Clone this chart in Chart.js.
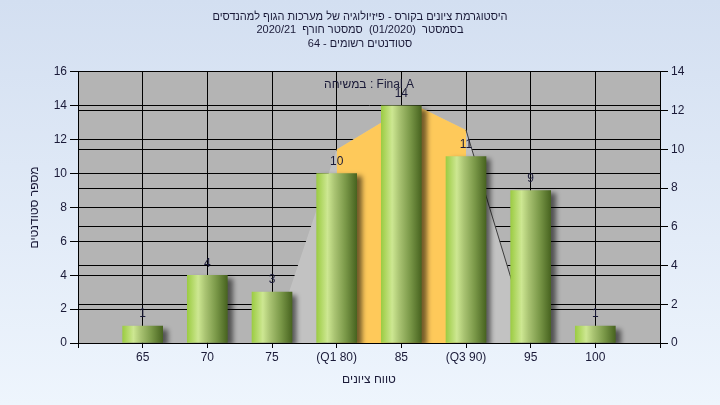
<!DOCTYPE html>
<html><head><meta charset="utf-8">
<script src="https://cdn.jsdelivr.net/npm/chart.js@4.4.1/dist/chart.umd.min.js"></script>
<style>
html,body{margin:0;padding:0;}
body{width:720px;height:405px;overflow:hidden;background:linear-gradient(180deg,#d3dff1 0%,#eef5fd 100%);}
#wrap{width:720px;height:405px;position:relative;}
</style></head><body>
<div id="wrap"><canvas id="c" dir="rtl" width="720" height="405"></canvas></div>
<script>
// ---- data ----
const titleLines = [
  'היסטוגרמת ציונים בקורס - פיזיולוגיה של מערכות הגוף למהנדסים',
  'בסמסטר  (01/2020)  סמסטר חורף  2020/21',
  'סטודנטים רשומים - 64'
];
const annotationText = 'Final A : במשיחה';
const yTitle = 'מספר סטודנטים';
const xTitle = 'טווח ציונים';
const categories = ['65', '70', '75', '(Q1 80)', '85', '(Q3 90)', '95', '100'];
const categoryPositions = [1, 2, 3, 4, 5, 6, 7, 8];
const counts = [1, 4, 3, 10, 14, 11, 9, 1];
const leftAxisMax = 16;
const rightAxisMax = 14;
const tickStep = 2;
const xAxisMax = 9;
const curveX = [3, 4, 4.7, 5.3, 6, 7];
const curveY = [0, 10, 11.4, 12.15, 11, 0];
const quartileRange = [4, 6];

// ---- derived ----
const barData = categoryPositions.map((x, i) => ({x: x, y: counts[i]}));
const curvePts = curveX.map((x, i) => ({x: x, y: curveY[i]}));
const iqrPts = curvePts.filter(p => p.x >= quartileRange[0] && p.x <= quartileRange[1]);
const edgePts = curvePts.slice(-2);

const FONT = '"Liberation Sans", Arial, "DejaVu Sans", sans-serif';
const TXT = '#1a1a38';

function barGradient(ctx) {
  const chart = ctx.chart;
  if (!chart.chartArea || ctx.dataIndex === undefined) return '#8ab040';
  const xs = chart.scales.x;
  const cx = xs.getPixelForValue(categoryPositions[ctx.dataIndex]);
  const g = chart.ctx.createLinearGradient(cx - 20, 0, cx + 20, 0);
  g.addColorStop(0, '#9ccc44');
  g.addColorStop(0.12, '#b2d866');
  g.addColorStop(0.27, '#cde792');
  g.addColorStop(0.45, '#a9c372');
  g.addColorStop(0.72, '#7a9848');
  g.addColorStop(1, '#486420');
  return g;
}

const bgPlugin = {
  id: 'plotBg',
  beforeDraw(chart) {
    const {ctx, chartArea: a} = chart;
    ctx.direction = 'rtl';
    ctx.save();
    ctx.fillStyle = '#b4b4b4';
    ctx.fillRect(a.left, a.top, a.right - a.left, a.bottom - a.top);
    ctx.restore();
  }
};
const shadowPlugin = {
  id: 'barShadow',
  beforeDatasetDraw(chart, args) {
    if (args.index !== 0) return;
    const ctx = chart.ctx;
    ctx.save();
    ctx.shadowColor = 'rgba(0,0,0,0.55)';
    ctx.shadowBlur = 5;
    ctx.shadowOffsetX = 5;
    ctx.shadowOffsetY = 3;
  },
  afterDatasetDraw(chart, args) {
    if (args.index !== 0) return;
    chart.ctx.restore();
  }
};
const labelPlugin = {
  id: 'barLabels',
  afterDatasetsDraw(chart) {
    const {ctx, chartArea: a} = chart;
    const meta = chart.getDatasetMeta(0);
    ctx.save();
    ctx.direction = 'rtl';
    ctx.font = '12px ' + FONT;
    ctx.fillStyle = TXT;
    ctx.textAlign = 'center';
    ctx.textBaseline = 'middle';
    meta.data.forEach((el, i) => ctx.fillText(String(counts[i]), el.x, el.y - 12));
    ctx.fillText(annotationText, (a.left + a.right) / 2, a.top + 13);
    ctx.restore();
  }
};

new Chart(document.getElementById('c'), {
  type: 'bar',
  data: {
    datasets: [
      {type: 'bar', data: barData, yAxisID: 'y', xAxisID: 'x', order: 0,
       backgroundColor: barGradient, borderWidth: 0, barThickness: 40},
      {type: 'line', data: curvePts, yAxisID: 'y2', xAxisID: 'x', order: 3,
       fill: 'origin', backgroundColor: '#c2c2c2', borderWidth: 0, borderColor: 'rgba(0,0,0,0)',
       pointRadius: 0, tension: 0},
      {type: 'line', data: iqrPts, yAxisID: 'y2', xAxisID: 'x', order: 2,
       fill: 'origin', backgroundColor: '#fec95a', borderWidth: 0, borderColor: 'rgba(0,0,0,0)',
       pointRadius: 0, tension: 0},
      {type: 'line', data: edgePts, yAxisID: 'y2', xAxisID: 'x', order: 1,
       fill: false, borderColor: '#3c3c3c', borderWidth: 1, pointRadius: 0, tension: 0}
    ]
  },
  options: {
    responsive: false,
    animation: false,
    devicePixelRatio: 1,
    layout: {padding: 0},
    plugins: {
      legend: {display: false},
      tooltip: {enabled: false},
      title: {
        display: true, text: titleLines, color: TXT,
        font: {family: FONT, size: 11, weight: 'normal', lineHeight: 1.227},
        padding: {top: 10, bottom: 21.5}
      }
    },
    scales: {
      x: {
        type: 'linear', position: 'bottom', min: 0, max: xAxisMax, offset: false,
        afterFit(s) { s.height = 62; },
        grid: {color: '#000', tickColor: '#000', tickLength: 5, offset: false, lineWidth: 1},
        border: {color: '#000', width: 1},
        ticks: {
          stepSize: 1, autoSkip: false, maxRotation: 0, minRotation: 0, padding: 2,
          color: TXT, font: {family: FONT, size: 12},
          callback: (v) => { const i = categoryPositions.indexOf(v); return i >= 0 ? categories[i] : ''; }
        },
        title: {display: true, text: xTitle, color: TXT, font: {family: FONT, size: 12},
                padding: {top: 0, bottom: 18}}
      },
      y: {
        type: 'linear', position: 'left', min: 0, max: leftAxisMax,
        afterFit(s) { s.width = 78; },
        grid: {color: '#000', tickColor: '#000', tickLength: 8},
        border: {color: '#000', width: 1},
        ticks: {stepSize: tickStep, padding: 3, color: TXT, font: {family: FONT, size: 12}},
        title: {display: true, text: yTitle, color: TXT, font: {family: FONT, size: 12},
                padding: {top: 27, bottom: 0}}
      },
      y2: {
        type: 'linear', position: 'right', min: 0, max: rightAxisMax,
        afterFit(s) { s.width = 60; },
        grid: {color: '#000', tickColor: '#000', tickLength: 8},
        border: {color: '#000', width: 1},
        ticks: {stepSize: tickStep, padding: 3, color: TXT, font: {family: FONT, size: 12}}
      }
    }
  },
  plugins: [bgPlugin, shadowPlugin, labelPlugin]
});
</script>
</body></html>
